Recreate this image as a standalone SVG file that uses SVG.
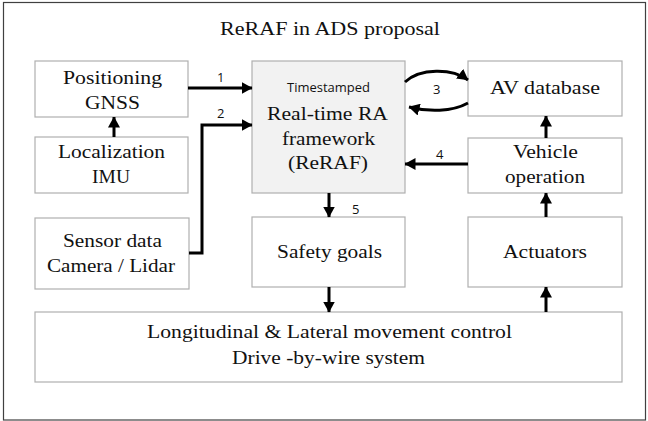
<svg xmlns="http://www.w3.org/2000/svg" width="648" height="421" viewBox="0 0 648 421">
  <defs>
    <style>
      .frame { fill: #ffffff; stroke: #404040; stroke-width: 1.2; }
      .box { fill: #ffffff; stroke: #b0b0b0; stroke-width: 1.2; }
      .core { fill: #f2f2f2; stroke: #b0b0b0; stroke-width: 1.2; }
      .lbl { font-family: "Liberation Serif", serif; font-size: 19px; fill: #111111; }
      .tag { font-family: "Open Sans", "Liberation Sans", sans-serif; font-size: 13px; fill: #111111; }
      .wire { fill: none; stroke: #000000; stroke-width: 3; marker-end: url(#head); }
    </style>
    <marker id="head" viewBox="0 0 11 12" refX="10.5" refY="6" markerWidth="11" markerHeight="12" markerUnits="userSpaceOnUse" orient="auto">
      <path d="M0,0 L11,6 L0,12 z" fill="#000000"/>
    </marker>
  </defs>

  <rect class="frame" x="3.5" y="2.5" width="642" height="417.5"/>

  <text class="lbl" x="220" y="35" textLength="220" lengthAdjust="spacingAndGlyphs">ReRAF in ADS proposal</text>

  <g id="positioning">
    <rect class="box" x="35" y="61" width="153" height="56"/>
    <text class="lbl" x="63" y="84" textLength="99" lengthAdjust="spacingAndGlyphs">Positioning</text>
    <text class="lbl" x="85" y="109" textLength="55" lengthAdjust="spacingAndGlyphs">GNSS</text>
  </g>

  <g id="localization">
    <rect class="box" x="35" y="137" width="153" height="56"/>
    <text class="lbl" x="58" y="158" textLength="107" lengthAdjust="spacingAndGlyphs">Localization</text>
    <text class="lbl" x="92" y="183" textLength="38" lengthAdjust="spacingAndGlyphs">IMU</text>
  </g>

  <g id="sensor-data">
    <rect class="box" x="35" y="218" width="154" height="71"/>
    <text class="lbl" x="63" y="247" textLength="99" lengthAdjust="spacingAndGlyphs">Sensor data</text>
    <text class="lbl" x="47" y="272" textLength="128" lengthAdjust="spacingAndGlyphs">Camera / Lidar</text>
  </g>

  <g id="reraf">
    <rect class="core" x="252" y="61" width="153" height="132"/>
    <text class="tag" x="287" y="92" font-size="11" textLength="83" lengthAdjust="spacingAndGlyphs">Timestamped</text>
    <text class="lbl" x="267" y="120" textLength="121" lengthAdjust="spacingAndGlyphs">Real-time RA</text>
    <text class="lbl" x="282" y="145" textLength="93" lengthAdjust="spacingAndGlyphs">framework</text>
    <text class="lbl" x="288" y="169" textLength="80" lengthAdjust="spacingAndGlyphs">(ReRAF)</text>
  </g>

  <g id="safety-goals">
    <rect class="box" x="252" y="217" width="153" height="70"/>
    <text class="lbl" x="277" y="258" textLength="105" lengthAdjust="spacingAndGlyphs">Safety goals</text>
  </g>

  <g id="av-database">
    <rect class="box" x="468" y="61" width="154" height="55"/>
    <text class="lbl" x="490" y="94" textLength="110" lengthAdjust="spacingAndGlyphs">AV database</text>
  </g>

  <g id="vehicle-operation">
    <rect class="box" x="468" y="138" width="154" height="55"/>
    <text class="lbl" x="513" y="158" textLength="65" lengthAdjust="spacingAndGlyphs">Vehicle</text>
    <text class="lbl" x="505" y="183" textLength="80" lengthAdjust="spacingAndGlyphs">operation</text>
  </g>

  <g id="actuators">
    <rect class="box" x="468" y="217" width="154" height="70"/>
    <text class="lbl" x="503" y="258" textLength="84" lengthAdjust="spacingAndGlyphs">Actuators</text>
  </g>

  <g id="motion-control">
    <rect class="box" x="35" y="312" width="587" height="70"/>
    <text class="lbl" x="147" y="338" textLength="365" lengthAdjust="spacingAndGlyphs">Longitudinal &amp; Lateral movement control</text>
    <text class="lbl" x="232" y="364" textLength="193" lengthAdjust="spacingAndGlyphs">Drive -by-wire system</text>
  </g>

  <g id="connectors">
    <!-- 1: GNSS to ReRAF -->
    <path class="wire" d="M188,88 H252"/>
    <text class="tag" x="217" y="82">1</text>
    <!-- 2: sensors to ReRAF -->
    <path class="wire" d="M189,253 H202 V125 H252"/>
    <text class="tag" x="217" y="118">2</text>
    <!-- IMU feeds GNSS -->
    <path class="wire" d="M114,137 V117"/>
    <!-- 3: exchange with AV database -->
    <path class="wire" d="M405,82 C420,68 452,68 468,80"/>
    <path class="wire" d="M468,103 C452,112 428,112 409,107"/>
    <text class="tag" x="433" y="94">3</text>
    <!-- 4: vehicle operation to ReRAF -->
    <path class="wire" d="M468,164 H405"/>
    <text class="tag" x="436" y="159">4</text>
    <!-- vehicle operation to AV database -->
    <path class="wire" d="M546,138 V116"/>
    <!-- actuators to vehicle operation -->
    <path class="wire" d="M546,217 V193"/>
    <!-- 5: ReRAF to safety goals -->
    <path class="wire" d="M329,193 V217"/>
    <text class="tag" x="352" y="214">5</text>
    <!-- safety goals to motion control -->
    <path class="wire" d="M329,287 V312"/>
    <!-- motion control to actuators -->
    <path class="wire" d="M546,312 V287"/>
  </g>
</svg>
